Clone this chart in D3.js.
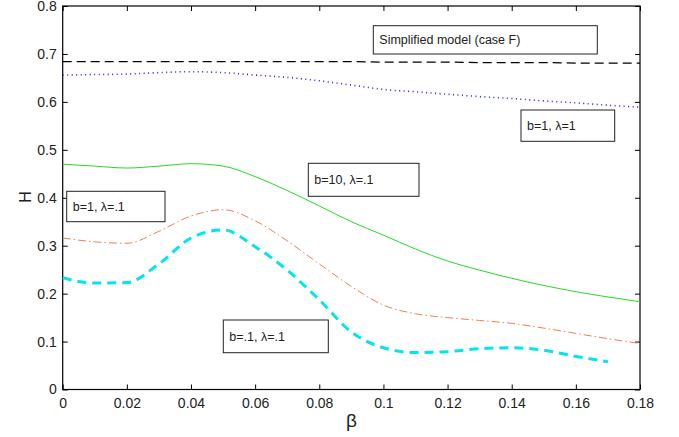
<!DOCTYPE html>
<head>
<meta charset="utf-8">
<script src="https://cdnjs.cloudflare.com/ajax/libs/d3/7.8.5/d3.min.js"></script>
<style>
  html, body { margin: 0; padding: 0; background: #fff; }
  svg { display: block; }
  text { font-family: "Liberation Sans", Arial, sans-serif; fill: #222; }
</style>
</head>
<body>
<svg id="chart" width="679" height="437"></svg>
<script>
// beta values and H curves
var betaFull = [0, 0.01, 0.02, 0.03, 0.04, 0.05, 0.06, 0.07, 0.08, 0.09, 0.1, 0.11, 0.12, 0.13, 0.14, 0.15, 0.16, 0.17, 0.18];
var simplifiedF = [0.684, 0.684, 0.684, 0.684, 0.684, 0.684, 0.684, 0.684, 0.684, 0.684, 0.683, 0.683, 0.683, 0.682, 0.682, 0.682, 0.681, 0.681, 0.681];
var b1l1 = [0.656, 0.657, 0.658, 0.661, 0.663, 0.661, 0.656, 0.651, 0.644, 0.635, 0.626, 0.621, 0.616, 0.611, 0.607, 0.602, 0.598, 0.593, 0.589];
var b10l01 = [0.470, 0.466, 0.462, 0.466, 0.471, 0.466, 0.444, 0.415, 0.383, 0.350, 0.322, 0.293, 0.268, 0.249, 0.232, 0.217, 0.204, 0.193, 0.183];
var b1l01 = [0.316, 0.308, 0.305, 0.330, 0.362, 0.375, 0.352, 0.310, 0.262, 0.215, 0.176, 0.158, 0.150, 0.144, 0.138, 0.128, 0.117, 0.106, 0.096];
var betaShort = [0, 0.01, 0.02, 0.03, 0.04, 0.05, 0.06, 0.07, 0.08, 0.09, 0.1, 0.11, 0.12, 0.13, 0.14, 0.15, 0.16, 0.17];
var b01l01 = [0.233, 0.222, 0.223, 0.262, 0.316, 0.333, 0.298, 0.249, 0.187, 0.120, 0.087, 0.077, 0.079, 0.085, 0.087, 0.082, 0.069, 0.058];

var xTicks = [0, 0.02, 0.04, 0.06, 0.08, 0.1, 0.12, 0.14, 0.16, 0.18];
var yTicks = [0, 0.1, 0.2, 0.3, 0.4, 0.5, 0.6, 0.7, 0.8];

var svg = d3.select('#chart');
var pLeft = 62.7, pRight = 640, pTop = 6, pBottom = 389.5;

var x = d3.scaleLinear().domain([0, 0.18]).range([pLeft, pRight]);
var y = d3.scaleLinear().domain([0, 0.8]).range([pBottom, pTop]);

// frame
svg.append('rect')
    .attr('x', pLeft).attr('y', pTop)
    .attr('width', pRight - pLeft).attr('height', pBottom - pTop)
    .attr('fill', 'none').attr('stroke', '#000').attr('stroke-width', 1.2);

var fmt = function(d) { return d === 0 ? '0' : String(d); };

// axes with inward ticks
svg.append('g').attr('transform', 'translate(0,' + pBottom + ')')
    .call(d3.axisBottom(x).tickValues(xTicks).tickFormat(fmt).tickSizeInner(-5).tickSizeOuter(0).tickPadding(9));
svg.append('g').attr('transform', 'translate(0,' + pTop + ')')
    .call(d3.axisTop(x).tickValues(xTicks).tickFormat('').tickSizeInner(-5).tickSizeOuter(0));
svg.append('g').attr('transform', 'translate(' + pLeft + ',0)')
    .call(d3.axisLeft(y).tickValues(yTicks).tickFormat(fmt).tickSizeInner(-5).tickSizeOuter(0).tickPadding(6));
svg.append('g').attr('transform', 'translate(' + pRight + ',0)')
    .call(d3.axisRight(y).tickValues(yTicks).tickFormat('').tickSizeInner(-5).tickSizeOuter(0));

svg.selectAll('.domain').remove();
svg.selectAll('.tick line').attr('stroke', '#000');
svg.selectAll('.tick text').style('font-size', '14px').attr('fill', '#222');

// axis labels
svg.append('text').attr('x', x(0.09)).attr('y', 427).attr('text-anchor', 'middle')
    .style('font-size', '19px').text('β');
svg.append('text').attr('transform', 'translate(31,197) rotate(-90)').attr('text-anchor', 'middle')
    .style('font-size', '16px').text('H');

// curves
var line = function(xs) {
    return d3.line().x(function(d, i) { return x(xs[i]); }).y(function(d) { return y(d); }).curve(d3.curveMonotoneX);
};
var plot = svg.append('g');
plot.append('path').datum(simplifiedF).attr('d', line(betaFull))
    .attr('fill', 'none').attr('stroke', '#000').attr('stroke-width', 1.2).attr('stroke-dasharray', '9,5');
plot.append('path').datum(b1l1).attr('d', line(betaFull))
    .attr('fill', 'none').attr('stroke', '#2020ff').attr('stroke-width', 1.6).attr('stroke-dasharray', '1,3.5');
plot.append('path').datum(b10l01).attr('d', line(betaFull))
    .attr('fill', 'none').attr('stroke', '#22dd22').attr('stroke-width', 1);
plot.append('path').datum(b1l01).attr('d', line(betaFull))
    .attr('fill', 'none').attr('stroke', '#f08050').attr('stroke-width', 1).attr('stroke-dasharray', '8,3,1.5,3');
plot.append('path').datum(b01l01).attr('d', line(betaShort))
    .attr('fill', 'none').attr('stroke', '#00e5ee').attr('stroke-width', 3).attr('stroke-dasharray', '9,6');

// annotation boxes
var labels = ['Simplified model (case F)', 'b=1, λ=1', 'b=10, λ=.1', 'b=1, λ=.1', 'b=.1, λ=.1'];
var boxX = [373.3, 521, 308.3, 66.7, 223.3];
var boxY = [25.7, 110, 163.3, 191.3, 320];
var boxW = [224, 93.7, 110.7, 98.3, 105];
var boxH = [28.3, 31.3, 33, 30.4, 32.7];

labels.forEach(function(t, i) {
    svg.append('rect').attr('x', boxX[i]).attr('y', boxY[i])
        .attr('width', boxW[i]).attr('height', boxH[i])
        .attr('fill', '#fff').attr('stroke', '#222').attr('stroke-width', 1);
    svg.append('text').attr('x', boxX[i] + 6).attr('y', boxY[i] + boxH[i] / 2 + 4.5)
        .style('font-size', '12.5px').text(t);
});
</script>
</body>
</html>
